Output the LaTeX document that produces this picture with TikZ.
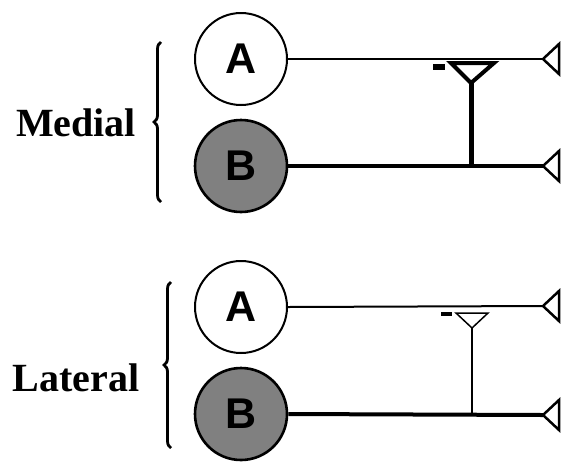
\documentclass[tikz,border=0pt]{standalone}
\usepackage{fontspec}
\setmainfont{Liberation Serif}
\newfontfamily\arialf{Liberation Sans}
\usetikzlibrary{decorations.pathreplacing}
\begin{document}
\begin{tikzpicture}[x=1pt,y=-1pt,
  cellA/.style={circle,draw,line width=2pt,minimum size=92pt,inner sep=0pt,font=\arialf\bfseries\fontsize{43}{43}\selectfont},
  cellB/.style={cellA,line width=2.6pt,fill=black!50},
  grp/.style={font=\bfseries\fontsize{40}{40}\selectfont,inner sep=0pt},
  brc/.style={decorate,decoration={brace,amplitude=7pt},line width=2.8pt},
  axthin/.style={line width=2pt},
  axthick/.style={line width=4pt},
  term/.style={line width=2.5pt,line join=miter},
  syn/.style={line join=miter}
]
\useasboundingbox (0,0) rectangle (561,461);
% Medial
\node[cellA] (A1) at (241,59) {A};
\node[cellB] (B1) at (241,166) {B};
\node[grp] (med) at (76,123) {Medial};
\draw[brc] (161,202) -- (161,42);
\coordinate (tA1) at (543,59);
\coordinate (tB1) at (543,166);
\draw[axthin] (A1.east) -- (tA1);
\draw[axthick] (B1.east) -- (tB1);
\draw[term] (tA1) -- (559,44) -- (559,74) -- cycle;
\draw[term] (tB1) -- (559,151) -- (559,181) -- cycle;
\coordinate (s1) at (471,83);
\coordinate (j1) at (471,166);
\draw[line width=5pt] (j1) -- (s1);
\draw[syn,line width=4pt] (s1) -- (451,63) -- (494,63) -- cycle;
\fill (433,64) rectangle (445,70);
% Lateral
\node[cellA] (A2) at (241,307) {A};
\node[cellB] (B2) at (241,414) {B};
\node[grp] (lat) at (76,378) {Lateral};
\draw[brc] (171,448) -- (171,282);
\coordinate (tA2) at (543,306);
\coordinate (tB2) at (543,415);
\draw[axthin] (A2.east) -- (tA2);
\draw[axthick] (B2.east) -- (tB2);
\draw[term] (tA2) -- (559,291) -- (559,321) -- cycle;
\draw[term] (tB2) -- (559,400) -- (559,430) -- cycle;
\coordinate (s2) at (472,328);
\coordinate (j2) at (472,415);
\draw[line width=1.5pt] (j2) -- (s2);
\draw[syn,line width=1.5pt] (s2) -- (456,313) -- (488,313) -- cycle;
\fill (441,312) rectangle (452,316);
\end{tikzpicture}
\end{document}
